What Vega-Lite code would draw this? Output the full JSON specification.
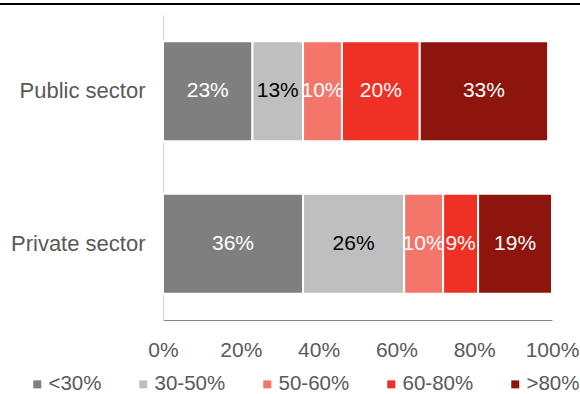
{
  "$schema": "https://vega.github.io/schema/vega-lite/v6.json",
  "width": 389,
  "height": 305,
  "autosize": "none",
  "padding": {"left": 163, "top": 15, "right": 28, "bottom": 74},
  "config": {"font": "Liberation Sans", "view": {"stroke": null}},
  "data": {
    "values": [
      {"sector": "Public sector", "band": "<30%", "k": 1, "share": 0.23},
      {"sector": "Public sector", "band": "30-50%", "k": 2, "share": 0.13},
      {"sector": "Public sector", "band": "50-60%", "k": 3, "share": 0.10},
      {"sector": "Public sector", "band": "60-80%", "k": 4, "share": 0.20},
      {"sector": "Public sector", "band": ">80%", "k": 5, "share": 0.33},
      {"sector": "Private sector", "band": "<30%", "k": 1, "share": 0.36},
      {"sector": "Private sector", "band": "30-50%", "k": 2, "share": 0.26},
      {"sector": "Private sector", "band": "50-60%", "k": 3, "share": 0.10},
      {"sector": "Private sector", "band": "60-80%", "k": 4, "share": 0.09},
      {"sector": "Private sector", "band": ">80%", "k": 5, "share": 0.19}
    ]
  },
  "layer": [
    {
      "mark": {"type": "bar", "stroke": "white", "strokeWidth": 2},
      "encoding": {
        "y": {
          "field": "sector", "type": "nominal", "sort": null,
          "scale": {"paddingInner": 0.344, "paddingOuter": 0.172},
          "axis": {"title": null, "domainColor": "#D9D9D9", "domainWidth": 1.5, "ticks": false, "labelFontSize": 22, "labelColor": "#595959", "labelPadding": 18}
        },
        "x": {
          "field": "share", "type": "quantitative", "stack": "zero",
          "scale": {"domain": [0, 1]},
          "axis": {"title": null, "format": ".0%", "domainColor": "#868686", "domainWidth": 1, "ticks": false, "grid": false, "labelFontSize": 21, "labelColor": "#595959", "labelPadding": 19, "tickCount": 5, "labelFlush": false}
        },
        "color": {
          "field": "band", "type": "nominal",
          "scale": {"domain": ["<30%", "30-50%", "50-60%", "60-80%", ">80%"], "range": ["#7F7F7F", "#BFBFBF", "#F4766B", "#EE3124", "#8E150E"]},
          "legend": {"orient": "none", "legendX": -136, "legendY": 359, "padding": 0, "direction": "horizontal", "columns": 5, "title": null, "symbolType": "square", "symbolSize": 64, "symbolStrokeWidth": 0, "labelFontSize": 20.5, "labelColor": "#595959", "columnPadding": 31, "labelOffset": 1}
        },
        "order": {"field": "k", "type": "quantitative"}
      }
    },
    {
      "mark": {"type": "text", "fontSize": 21},
      "encoding": {
        "y": {"field": "sector", "type": "nominal", "sort": null, "scale": {"paddingInner": 0.344, "paddingOuter": 0.172}, "axis": null},
        "x": {"field": "share", "type": "quantitative", "stack": "zero", "bandPosition": 0.5},
        "text": {"field": "share", "type": "quantitative", "format": ".0%"},
        "color": {"condition": {"test": "datum.band === '30-50%'", "value": "black"}, "value": "white"},
        "order": {"field": "k", "type": "quantitative"}
      }
    },
    {
      "data": {"values": [{}]},
      "mark": {"type": "rule", "color": "black", "strokeWidth": 2.2},
      "encoding": {
        "x": {"datum": -0.419, "type": "quantitative"},
        "x2": {"datum": 1.072},
        "y": {"datum": 1.036, "type": "quantitative", "scale": {"domain": [0, 1]}, "axis": null}
      }
    }
  ],
  "resolve": {"scale": {"y": "independent"}}
}
